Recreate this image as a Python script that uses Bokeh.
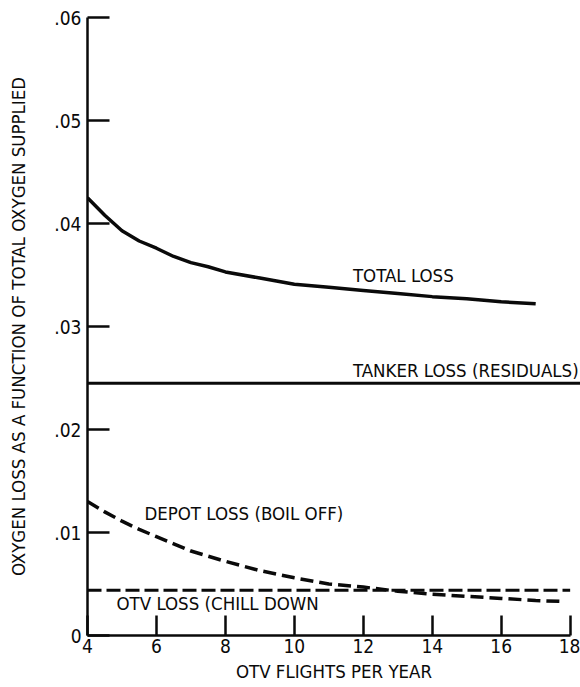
from bokeh.plotting import figure
from bokeh.models import Range1d, FixedTicker, ColumnDataSource
from bokeh.core.properties import value
from bokeh.embed import file_html
from bokeh.resources import INLINE

FONT = "DejaVu Sans Condensed"

# ---- data ----
flights = [4, 4.5, 5, 5.5, 6, 6.5, 7, 7.5, 8, 9, 10, 11, 12, 13, 14, 15, 16, 17]
total_loss = [0.0425, 0.0408, 0.0393, 0.0383, 0.0376, 0.0368, 0.0362, 0.0358,
              0.0353, 0.0347, 0.0341, 0.0338, 0.0335, 0.0332, 0.0329, 0.0327,
              0.0324, 0.0322]

depot_flights = [4, 4.5, 5, 5.5, 6, 6.5, 7, 7.5, 8, 9, 10, 11, 12, 13, 14,
                 15, 16, 17, 17.8]
depot_loss = [0.0130, 0.0120, 0.0111, 0.0103, 0.0096, 0.0089, 0.0082, 0.0077,
              0.0072, 0.0063, 0.0056, 0.0050, 0.0047, 0.0043, 0.0040, 0.0038,
              0.0036, 0.0034, 0.0033]

tanker_flights = [4, 18.3]
tanker_loss = [0.0245, 0.0245]

otv_flights = [4, 18]
otv_loss = [0.0044, 0.0044]

x_ticks = [4, 6, 8, 10, 12, 14, 16, 18]
y_ticks = [0, 0.01, 0.02, 0.03, 0.04, 0.05, 0.06]
y_tick_labels = ["0", ".01", ".02", ".03", ".04", ".05", ".06"]

label_x = [11.7, 11.7, 5.65, 4.84]
label_y = [0.0350, 0.0257, 0.0118, 0.0031]
label_text = ["TOTAL LOSS", "TANKER LOSS (RESIDUALS)",
              "DEPOT LOSS (BOIL OFF)", "OTV LOSS (CHILL DOWN"]

# ---- figure ----
p = figure(width=580, height=687, output_backend="svg", toolbar_location=None,
           x_range=Range1d(4, 18.3), y_range=Range1d(0, 0.06),
           min_border_left=87, min_border_right=0, min_border_top=17,
           min_border_bottom=52)
p.outline_line_color = None
p.xgrid.visible = False
p.ygrid.visible = False
p.background_fill_color = "white"
p.border_fill_color = "white"

ink = "#0a0a0a"

p.line(flights, total_loss, line_color=ink, line_width=3.5)
p.line(tanker_flights, tanker_loss, line_color=ink, line_width=3)
p.line(depot_flights, depot_loss, line_color=ink, line_width=3.5, line_dash="13 6")
p.line(otv_flights, otv_loss, line_color=ink, line_width=3, line_dash="14 5")

src = ColumnDataSource(dict(x=label_x, y=label_y, t=label_text))
p.text(x="x", y="y", text="t", source=src, text_font=value(FONT),
       text_font_size="18.5px", text_color=ink, text_align="left",
       text_baseline="middle")

# x axis
xa = p.xaxis[0]
xa.ticker = FixedTicker(ticks=x_ticks)
xa.bounds = (4, 18)
xa.axis_line_width = 2.5
xa.axis_line_color = ink
xa.major_tick_line_width = 2.5
xa.major_tick_line_color = ink
xa.major_tick_in = 20
xa.major_tick_out = 0
xa.minor_tick_line_color = None
xa.major_label_standoff = 3
xa.major_label_text_font = FONT
xa.major_label_text_font_size = "19px"
xa.major_label_text_color = ink
xa.axis_label = "OTV FLIGHTS PER YEAR"
xa.axis_label_text_font = FONT
xa.axis_label_text_font_size = "18.5px"
xa.axis_label_text_font_style = "normal"
xa.axis_label_text_color = ink
xa.axis_label_standoff = 5

# y axis
ya = p.yaxis[0]
ya.ticker = FixedTicker(ticks=y_ticks)
ya.major_label_overrides = {t: l for t, l in zip(y_ticks, y_tick_labels)}
ya.axis_line_width = 2.5
ya.axis_line_color = ink
ya.major_tick_line_width = 2.5
ya.major_tick_line_color = ink
ya.major_tick_in = 22
ya.major_tick_out = 0
ya.minor_tick_line_color = None
ya.major_label_standoff = 6
ya.major_label_text_font = FONT
ya.major_label_text_font_size = "19px"
ya.major_label_text_color = ink
ya.axis_label = "OXYGEN LOSS AS A FUNCTION OF TOTAL OXYGEN SUPPLIED"
ya.axis_label_text_font = FONT
ya.axis_label_text_font_size = "18.5px"
ya.axis_label_text_font_style = "normal"
ya.axis_label_text_color = ink
ya.axis_label_standoff = 22

open("out.html", "w").write(file_html(p, INLINE))
